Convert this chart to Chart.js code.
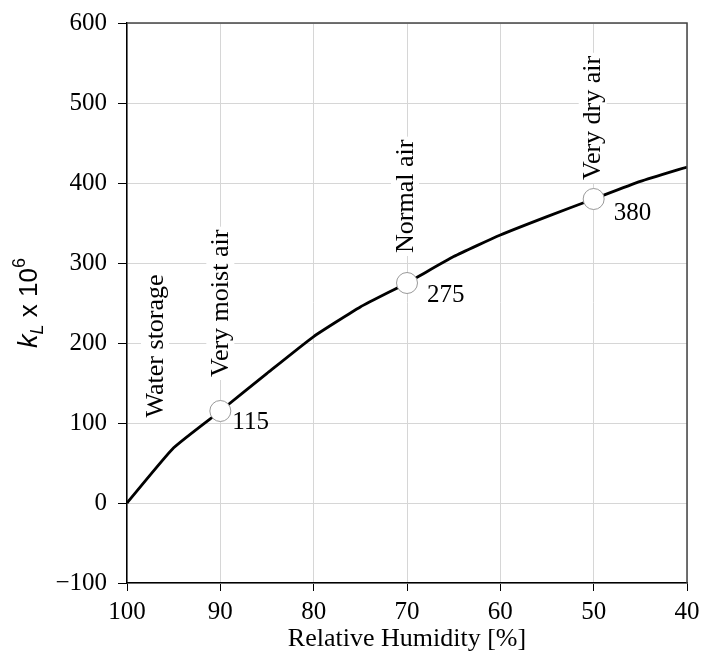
<!DOCTYPE html>
<html lang="en">
<head>
    <meta charset="utf-8">
    <title>kL vs relative humidity</title>
    <script src="https://cdn.jsdelivr.net/npm/chart.js"></script>
    <style>
        body { margin: 0; background: #fff; }
        #wrap { width: 702px; height: 660px; }
    </style>
</head>
<body>
    <div id="wrap"><canvas id="myChart" width="702" height="660"></canvas></div>

    <script>
        // curve
        const humidity = [100, 95, 90, 85, 80, 75, 70, 65, 60, 55, 50, 45, 40];
        const kL = [0, 69, 115, 162, 208, 245, 275, 308, 335, 358, 380, 402, 420];

        // marked points and their names
        const markX = [90, 70, 50];
        const markY = [115, 275, 380];
        const markNames = ['Very moist air', 'Normal air', 'Very dry air'];

        // ticks
        const yTicks = [-100, 0, 100, 200, 300, 400, 500, 600];
        const xTicks = [100, 90, 80, 70, 60, 50, 40];

        const serif = "'Liberation Serif', 'Times New Roman', serif";
        const sans = "'Liberation Sans', Arial, sans-serif";

        // label offsets (px) from each marker: [dx, dy] for name, [dx, dy] for value
        const nameOff = [[0, -34], [-2, -30], [-1, -19]];
        const valOff = [[12, 11], [20, 12], [20, 14]];

        function vertText(ctx, txt, x, y) {
            ctx.save();
            ctx.translate(x, y);
            ctx.rotate(-Math.PI / 2);
            const w = ctx.measureText(txt).width;
            ctx.fillStyle = '#fff';
            ctx.fillRect(-3, -14, w + 6, 28);
            ctx.fillStyle = '#000';
            ctx.textAlign = 'left';
            ctx.textBaseline = 'middle';
            ctx.fillText(txt, 0, 1);
            ctx.restore();
        }

        const notes = {
            id: 'notes',
            beforeDatasetsDraw(chart) {
                const ctx = chart.ctx;
                const xs = chart.scales.x, ys = chart.scales.y;
                ctx.save();
                ctx.font = '26px ' + serif;
                markNames.forEach((n, i) => {
                    const px = xs.getPixelForValue(markX[i]);
                    const py = ys.getPixelForValue(markY[i]);
                    vertText(ctx, n, px + nameOff[i][0], py + nameOff[i][1]);
                });
                // water storage region near 100 %
                vertText(ctx, 'Water storage', xs.getPixelForValue(97.0), ys.getPixelForValue(107));
                ctx.restore();
            },
            afterDraw(chart) {
                const ctx = chart.ctx;
                const a = chart.chartArea;
                const xs = chart.scales.x, ys = chart.scales.y;
                ctx.save();
                // top and right frame
                ctx.strokeStyle = '#444';
                ctx.lineWidth = 1.5;
                ctx.beginPath();
                ctx.moveTo(a.left, a.top);
                ctx.lineTo(a.right, a.top);
                ctx.lineTo(a.right, a.bottom);
                ctx.stroke();

                // values next to markers
                ctx.fillStyle = '#000';
                ctx.font = '25px ' + serif;
                ctx.textAlign = 'left';
                ctx.textBaseline = 'middle';
                markY.forEach((v, i) => {
                    const px = xs.getPixelForValue(markX[i]);
                    const py = ys.getPixelForValue(v);
                    ctx.fillText(String(v), px + valOff[i][0], py + valOff[i][1]);
                });

                // y title: k_L x 10^6
                ctx.translate(28, (a.top + a.bottom) / 2);
                ctx.rotate(-Math.PI / 2);
                ctx.textBaseline = 'alphabetic';
                const parts = [
                    { t: 'k', f: 'italic 27px ' + sans, dy: 0 },
                    { t: 'L', f: 'italic 18px ' + sans, dy: 6 },
                    { t: ' x 10', f: '26px ' + sans, dy: 0 },
                    { t: '6', f: '18px ' + sans, dy: -12 }
                ];
                let total = 0;
                parts.forEach(p => { ctx.font = p.f; p.w = ctx.measureText(p.t).width; total += p.w; });
                let cx = -total / 2;
                parts.forEach(p => {
                    ctx.font = p.f;
                    ctx.fillText(p.t, cx, 9 + p.dy);
                    cx += p.w;
                });
                ctx.restore();
            }
        };

        const ctx = document.getElementById('myChart').getContext('2d');
        const myChart = new Chart(ctx, {
            type: 'scatter',
            data: {
                datasets: [
                    {
                        data: humidity.map((h, i) => ({ x: h, y: kL[i] })),
                        showLine: true,
                        borderColor: '#000',
                        borderWidth: 2.8,
                        pointRadius: 0,
                        tension: 0.15,
                        order: 2
                    },
                    {
                        data: markX.map((h, i) => ({ x: h, y: markY[i] })),
                        showLine: false,
                        pointRadius: 10.5,
                        pointBackgroundColor: '#fff',
                        pointBorderColor: '#999',
                        pointBorderWidth: 1,
                        order: 1
                    }
                ]
            },
            options: {
                responsive: false,
                animation: false,
                events: [],
                layout: { padding: { top: 23, right: 15, left: 0, bottom: 0 } },
                plugins: { legend: { display: false }, tooltip: { enabled: false } },
                scales: {
                    x: {
                        type: 'linear',
                        reverse: true,
                        min: 40,
                        max: 100,
                        afterFit(s) { s.height = 77; s.paddingLeft = 0; s.paddingRight = 0; },
                        afterBuildTicks(s) { s.ticks = xTicks.map(v => ({ value: v })); },
                        ticks: { color: '#000', font: { family: serif, size: 25 }, padding: 6 },
                        grid: { color: '#d6d6d6', tickColor: '#000', tickLength: 8, lineWidth: 1 },
                        border: { color: '#000', width: 1.5 },
                        title: { display: true, text: 'Relative Humidity [%]', color: '#000', font: { family: serif, size: 26 }, padding: { top: 0, bottom: 5 } }
                    },
                    y: {
                        type: 'linear',
                        min: -100,
                        max: 600,
                        afterFit(s) { s.width = 127; s.paddingTop = 0; s.paddingBottom = 0; },
                        afterBuildTicks(s) { s.ticks = yTicks.map(v => ({ value: v })); },
                        ticks: {
                            color: '#000',
                            font: { family: serif, size: 25 },
                            padding: 11,
                            callback: v => String(v).replace('-', '\u2212')
                        },
                        grid: { color: '#d6d6d6', tickColor: '#000', tickLength: 9, lineWidth: 1 },
                        border: { color: '#000', width: 1.5 }
                    }
                }
            },
            plugins: [notes]
        });
    </script>
</body>
</html>
